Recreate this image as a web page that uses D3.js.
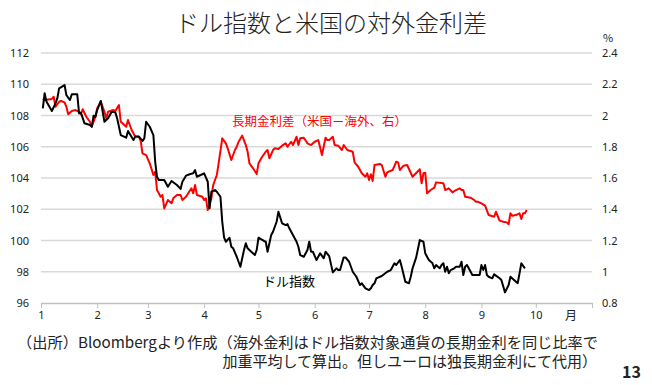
<!DOCTYPE html>
<html>
<head>
  <meta charset="utf-8">
  <title>ドル指数と米国の対外金利差</title>
  <script src="https://d3js.org/d3.v7.min.js"></script>
  <style>
    body { margin: 0; background: #fff; }
    svg { font-family: "Noto Sans CJK JP", "Noto Sans", sans-serif; }
  </style>
</head>
<body>
  <div id="chart"></div>

  <script>
    // ドル指数 (left axis)
    const dxyDates = [
      "1/2","1/3","1/4","1/7","1/9","1/10","1/11","1/14","1/15","1/17","1/18","1/21","1/22","1/23","1/25","1/28","1/29","1/30","1/31",
      "2/1","2/3","2/5","2/7","2/9","2/11","2/12","2/14","2/17","2/18","2/21","2/22","2/24","2/26","2/27","2/28",
      "3/2","3/4","3/5","3/6","3/7","3/9","3/10","3/12","3/14","3/17","3/19","3/20","3/22","3/24","3/26","3/27","3/28","3/31",
      "4/1","4/3","4/4","4/5","4/7","4/8","4/10","4/11","4/12","4/13","4/15","4/16","4/17","4/19","4/21","4/23","4/24","4/25","4/27","4/29","4/30",
      "5/1","5/4","5/5","5/6","5/8","5/9","5/11","5/12","5/14","5/16","5/17","5/18","5/20","5/22","5/23","5/24","5/26","5/28","5/29","5/30","5/31",
      "6/2","6/4","6/6","6/7","6/9","6/11","6/13","6/14","6/15","6/17","6/18","6/20","6/22","6/24","6/26","6/27","6/29",
      "7/1","7/2","7/3","7/4","7/5","7/8","7/11","7/13","7/15","7/16","7/18","7/19","7/21","7/23","7/24","7/25","7/27","7/29","7/31",
      "8/1","8/2","8/3","8/5","8/6","8/7","8/8","8/9","8/10","8/11","8/12","8/13","8/14","8/15","8/17","8/18","8/20","8/21","8/22","8/23","8/24","8/25","8/27","8/29","8/31",
      "9/1","9/2","9/3","9/4","9/5","9/7","9/8","9/9","9/11","9/12","9/14","9/16","9/17","9/19","9/21","9/23","9/25","9/26"
    ];
    const dxyValues = [
      108.46,109.42,108.9,108.29,108.78,109.1,109.74,109.95,109.3,108.99,109.36,109.36,108.14,108.18,107.5,107.39,107.28,107.99,107.9,
      108.35,108.93,107.6,107.82,108.24,108.2,107.82,106.75,106.58,107.01,106.43,106.65,106.65,106.37,106.54,107.6,
      107.28,106.75,105.04,104.08,103.87,103.87,103.87,103.44,103.81,103.55,103.3,103.76,104.15,104.24,104.3,104.51,104.08,104.24,
      104.3,103.76,102.06,103.12,103.23,103.12,102.8,101.2,100.2,99.92,100.18,99.6,99.5,98.96,98.32,99.39,99.82,99.5,99.28,99.07,99.39,
      100.18,99.97,99.92,99.28,100.35,100.56,101.2,101.84,101.1,100.99,101.05,100.78,100.35,99.92,99.6,99.07,98.96,99.39,99.92,99.28,99.28,
      98.75,99.18,98.86,99.28,99.0,97.96,98.22,98.11,98.11,98.92,98.92,98.64,98.0,97.68,97.15,97.26,
      96.94,96.83,96.94,97.15,97.26,97.58,97.73,98.0,98.11,98.54,98.43,98.75,98.32,97.36,97.26,97.68,98.22,98.92,100.03,
      99.92,99.18,98.96,98.75,98.54,98.22,98.43,98.32,98.22,98.43,98.54,98.0,98.32,97.9,98.11,98.22,98.32,98.32,98.64,97.79,98.32,98.43,98.22,97.79,97.79,
      97.79,98.43,98.11,98.43,97.79,97.68,97.58,97.84,97.75,97.58,97.47,96.68,97.15,97.68,97.47,97.26,98.54,98.22
    ];

    // 長期金利差 (米国－海外, right axis, %)
    const spreadDates = [
      "1/2","1/3","1/7","1/8","1/9","1/11","1/12","1/14","1/15","1/16","1/18","1/20","1/22","1/23","1/24","1/26","1/28","1/29","1/31",
      "2/1","2/3","2/5","2/6","2/7","2/10","2/11","2/13","2/14","2/17","2/18","2/20","2/22","2/24","2/25","2/26","2/28",
      "3/2","3/4","3/5","3/6","3/7","3/8","3/9","3/10","3/12","3/14","3/15","3/17","3/19","3/20","3/22","3/24","3/25","3/26","3/27","3/28","3/31",
      "4/1","4/2","4/3","4/5","4/6","4/8","4/9","4/11","4/13","4/14","4/16","4/18","4/19","4/20","4/22","4/24","4/25","4/26","4/28","4/30",
      "5/1","5/3","5/5","5/6","5/7","5/9","5/10","5/12","5/14","5/16","5/17","5/19","5/20","5/22","5/23","5/24","5/26","5/28","5/30",
      "6/1","6/3","6/5","6/7","6/8","6/9","6/11","6/12","6/14","6/16","6/17","6/19","6/22","6/23","6/25","6/27","6/28","6/29","6/30",
      "7/1","7/2","7/3","7/4","7/7","7/8","7/10","7/11","7/14","7/16","7/17","7/18","7/20","7/22","7/25","7/29","7/30","7/31",
      "8/1","8/2","8/4","8/6","8/7","8/11","8/12","8/14","8/16","8/18","8/20","8/21","8/22","8/23","8/26","8/28","8/29","8/30",
      "9/1","9/3","9/5","9/8","9/9","9/11","9/13","9/15","9/16","9/17","9/18","9/20","9/22","9/23","9/24","9/25","9/26"
    ];
    const spreadValues = [
      2.106,2.099,2.106,2.12,2.056,2.088,2.093,2.084,2.056,2.008,2.029,2.035,2.024,2.008,2.04,1.992,1.96,1.928,1.992,
      2.046,2.088,2.024,1.982,2.024,2.035,2.029,2.067,1.96,1.928,1.971,1.907,1.864,1.864,1.837,1.758,1.747,
      1.694,1.619,1.64,1.523,1.502,1.48,1.491,1.406,1.459,1.438,1.47,1.491,1.491,1.459,1.48,1.517,1.534,1.502,1.555,1.491,1.48,
      1.459,1.47,1.395,1.47,1.555,1.619,1.694,1.854,1.822,1.79,1.715,1.779,1.8,1.832,1.871,1.811,1.768,1.694,1.662,1.626,
      1.694,1.736,1.768,1.779,1.726,1.779,1.79,1.786,1.807,1.822,1.8,1.832,1.811,1.864,1.811,1.854,1.858,1.822,1.811,
      1.832,1.843,1.747,1.858,1.843,1.843,1.864,1.811,1.807,1.779,1.811,1.779,1.768,1.7,1.672,1.63,1.619,1.608,1.63,
      1.587,1.624,1.581,1.683,1.69,1.683,1.608,1.636,1.651,1.704,1.7,1.651,1.679,1.683,1.608,1.656,1.566,1.63,
      1.634,1.502,1.523,1.538,1.572,1.566,1.523,1.534,1.508,1.523,1.534,1.523,1.523,1.48,1.474,1.459,1.448,1.448,
      1.438,1.423,1.363,1.352,1.384,1.327,1.32,1.316,1.304,1.374,1.359,1.363,1.374,1.338,1.374,1.374,1.395
    ];

    const leftTicks = [96, 98, 100, 102, 104, 106, 108, 110, 112];
    const rightTicks = [0.8, 1.0, 1.2, 1.4, 1.6, 1.8, 2.0, 2.2, 2.4];
    const monthLabels = ["1", "2", "3", "4", "5", "6", "7", "8", "9", "10", ""];

    const parseDay = d3.timeParse("%Y/%m/%d");
    const dxy = dxyDates.map((d, i) => ({ date: parseDay("2025/" + d), value: dxyValues[i] }));
    const spread = spreadDates.map((d, i) => ({ date: parseDay("2025/" + d), value: spreadValues[i] }));

    const width = 652, height = 385;
    const plot = { left: 41, right: 592, top: 53, bottom: 303 };

    const svg = d3.select("#chart").append("svg")
      .attr("width", width)
      .attr("height", height);

    const x = d3.scaleTime()
      .domain([new Date(2025, 0, 1), new Date(2025, 10, 1)])
      .range([plot.left, plot.right]);
    const yLeft = d3.scaleLinear().domain([96, 112]).range([plot.bottom, plot.top]);
    const yRight = d3.scaleLinear().domain([0.8, 2.4]).range([plot.bottom, plot.top]);

    // title
    svg.append("text")
      .attr("x", 331).attr("y", 32)
      .attr("text-anchor", "middle")
      .style("font-size", "24px")
      .style("font-weight", 300)
      .attr("fill", "#222")
      .text("ドル指数と米国の対外金利差");

    // gridlines
    svg.append("g")
      .selectAll("line")
      .data(leftTicks.slice(1))
      .join("line")
      .attr("x1", plot.left).attr("x2", plot.right)
      .attr("y1", d => yLeft(d)).attr("y2", d => yLeft(d))
      .attr("stroke", "#d9d9d9")
      .attr("stroke-width", 1.5);

    // left axis
    const leftAxis = svg.append("g")
      .attr("transform", "translate(29,0)")
      .call(d3.axisLeft(yLeft).tickValues(leftTicks).tickSize(0).tickPadding(0));
    leftAxis.select(".domain").remove();
    leftAxis.selectAll("text")
      .attr("x", 0)
      .style("font-size", "11px")
      .style("font-family", "'Noto Sans', sans-serif")
      .attr("fill", "#222");

    // right axis
    const rightAxis = svg.append("g")
      .attr("transform", "translate(602,0)")
      .call(d3.axisRight(yRight).tickValues(rightTicks).tickFormat(d3.format("~g")).tickSize(0).tickPadding(0));
    rightAxis.select(".domain").remove();
    rightAxis.selectAll("text")
      .attr("x", 0)
      .style("font-size", "11px")
      .style("font-family", "'Noto Sans', sans-serif")
      .attr("fill", "#222");

    svg.append("text")
      .attr("x", 603).attr("y", 42)
      .style("font-size", "11px")
      .attr("fill", "#222")
      .text("%");

    // bottom axis
    const monthTicks = d3.timeMonth.range(new Date(2025, 0, 1), new Date(2025, 10, 2));
    const bottomAxis = svg.append("g")
      .attr("transform", "translate(0," + plot.bottom + ")")
      .call(d3.axisBottom(x).tickValues(monthTicks).tickFormat((d, i) => monthLabels[i]).tickSize(5).tickPadding(3).tickSizeOuter(0));
    bottomAxis.select(".domain").attr("stroke", "#bfbfbf").attr("stroke-width", 1.5);
    bottomAxis.selectAll(".tick line").attr("stroke", "#bfbfbf");
    bottomAxis.selectAll("text")
      .style("font-size", "11px")
      .style("font-family", "'Noto Sans', sans-serif")
      .attr("fill", "#222");

    svg.append("text")
      .attr("x", 571).attr("y", 320)
      .attr("text-anchor", "middle")
      .style("font-size", "12px")
      .attr("fill", "#222")
      .text("月");

    // lines
    const lineLeft = d3.line().x(d => x(d.date)).y(d => yLeft(d.value));
    const lineRight = d3.line().x(d => x(d.date)).y(d => yRight(d.value));

    svg.append("path")
      .datum(spread)
      .attr("fill", "none")
      .attr("stroke", "#ff0000")
      .attr("stroke-width", 2)
      .attr("stroke-linejoin", "round")
      .attr("d", lineRight);

    svg.append("path")
      .datum(dxy)
      .attr("fill", "none")
      .attr("stroke", "#000")
      .attr("stroke-width", 2)
      .attr("stroke-linejoin", "round")
      .attr("d", lineLeft);

    // series labels
    svg.append("text")
      .attr("x", 232).attr("y", 126)
      .style("font-size", "12.5px")
      .attr("fill", "#ff0000")
      .text("長期金利差（米国－海外、右）");

    svg.append("text")
      .attr("x", 263).attr("y", 286)
      .style("font-size", "13px")
      .attr("fill", "#000")
      .text("ドル指数");

    // source note
    svg.append("text")
      .attr("x", 17).attr("y", 348)
      .attr("textLength", 581)
      .attr("lengthAdjust", "spacingAndGlyphs")
      .style("font-size", "15px")
      .attr("fill", "#222")
      .text("（出所）Bloombergより作成（海外金利はドル指数対象通貨の長期金利を同じ比率で");

    svg.append("text")
      .attr("x", 597).attr("y", 367)
      .attr("text-anchor", "end")
      .style("font-size", "15px")
      .attr("fill", "#222")
      .text("加重平均して算出。但しユーロは独長期金利にて代用）");

    svg.append("text")
      .attr("x", 622).attr("y", 378)
      .style("font-size", "16px")
      .style("font-weight", "bold")
      .attr("fill", "#222")
      .text("13");
  </script>
</body>
</html>
